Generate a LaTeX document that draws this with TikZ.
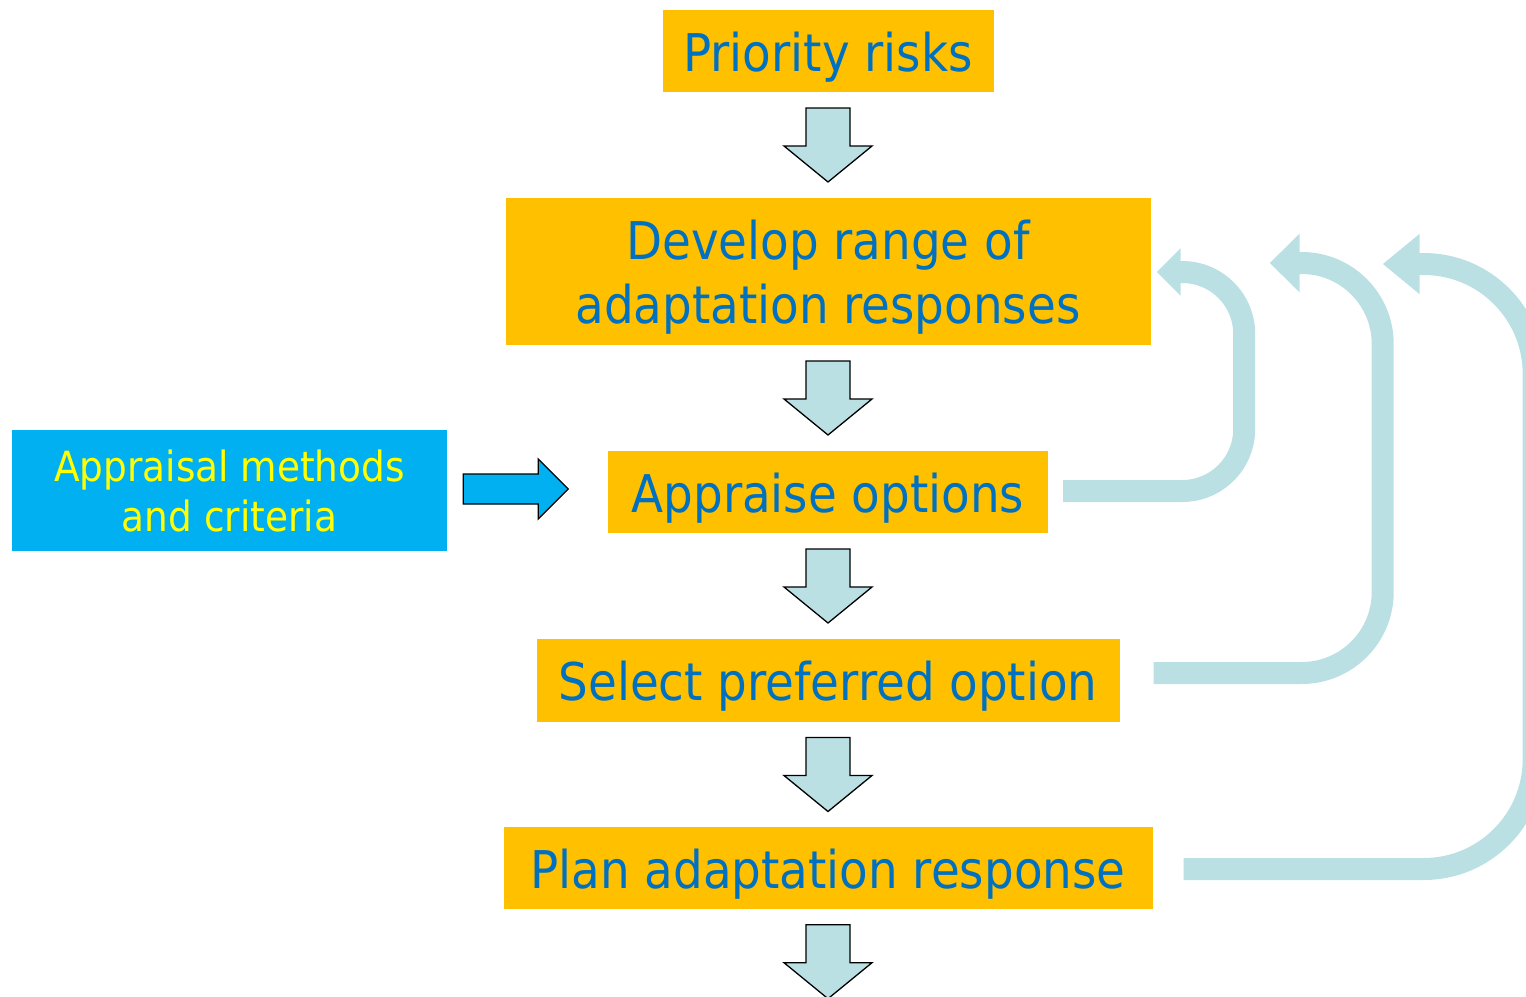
\documentclass[tikz,border=0pt]{standalone}
\usepackage{fontspec}
\setmainfont{DejaVu Sans Condensed}
\usetikzlibrary{arrows.meta,calc}
\definecolor{boxorange}{RGB}{255,192,0}
\definecolor{txtblue}{RGB}{0,112,192}
\definecolor{skyblue}{RGB}{0,176,240}
\definecolor{txtyellow}{RGB}{255,255,0}
\definecolor{arrowfill}{RGB}{187,224,228}
\begin{document}
\begin{tikzpicture}[x=1pt,y=-1pt,
  stepbox/.style={fill=boxorange, text=txtblue, inner sep=0pt,
    font=\fontsize{52}{64}\selectfont, align=center},
  oneline/.style={text height=40pt, text depth=0pt},
  inputbox/.style={fill=skyblue, text=txtyellow, inner sep=0pt,
    font=\fontsize{41.6}{50}\selectfont, align=center},
  downarr/.style={fill=arrowfill, draw=black, line width=1.3pt, line join=miter},
  rightarr/.style={fill=skyblue, draw=black, line width=1.3pt, line join=miter},
  fb/.style={draw=arrowfill, line width=22pt},
  darr/.pic={\draw[downarr] (-22,-37) -- (22,-37) -- (22,1) -- (44,1) -- (0,37) -- (-44,1) -- (-22,1) -- cycle;},
  rarr/.pic={\draw[rightarr] (0,-15) -- (75,-15) -- (75,-30) -- (105,0) -- (75,30) -- (75,15) -- (0,15) -- cycle;}
]
\useasboundingbox (0,0) rectangle (1526,996);

\node[stepbox, oneline, minimum width=331pt, minimum height=82pt] (prio) at (828,51) {Priority risks};
\node[stepbox, text height=103pt, text depth=0pt, minimum width=645pt, minimum height=147pt] (develop) at (828,271.5) {Develop range of\\adaptation responses};
\node[stepbox, oneline, minimum width=440pt, minimum height=82pt] (appraise) at (828,492) {Appraise options};
\node[stepbox, oneline, minimum width=583pt, minimum height=83pt] (select) at (828,680.5) {Select preferred option};
\node[stepbox, oneline, minimum width=649pt, minimum height=82pt] (plan) at (828,868) {Plan adaptation response};
\node[inputbox, text height=81pt, text depth=0pt, minimum width=435pt, minimum height=121pt] (input) at (229.5,490.5) {Appraisal methods\\and criteria};

% block arrows down
\pic at ($(prio.south)!0.5!(develop.north)$) {darr};
\pic at ($(develop.south)!0.5!(appraise.north)$) {darr};
\pic at ($(appraise.south)!0.5!(select.north)$) {darr};
\pic at ($(select.south)!0.5!(plan.north)$) {darr};
\pic at ($(plan.south)+(0,52.5)$) {darr};

% input arrow
\pic at ($(input.east)+(16,-1.5)$) {rarr};

% feedback arrows
\draw[fb, rounded corners=62pt, -{Triangle[length=24pt,width=46pt]}]
  ($(appraise.east)+(15,-1)$) -- ++(181,0) |- ($(develop.east)+(6,0.5)$);
\draw[fb, rounded corners=81pt, -{Triangle[length=30pt,width=57pt]}]
  ($(select.east)+(34,-7.5)$) -- ++(229,0) |- ($(develop.east)+(119,-8.5)$);
\draw[fb, rounded corners=110pt, -{Triangle[length=37pt,width=58pt]}]
  ($(plan.east)+(31,1)$) -- ++(350,0) |- ($(develop.east)+(232,-7.5)$);
\end{tikzpicture}
\end{document}
